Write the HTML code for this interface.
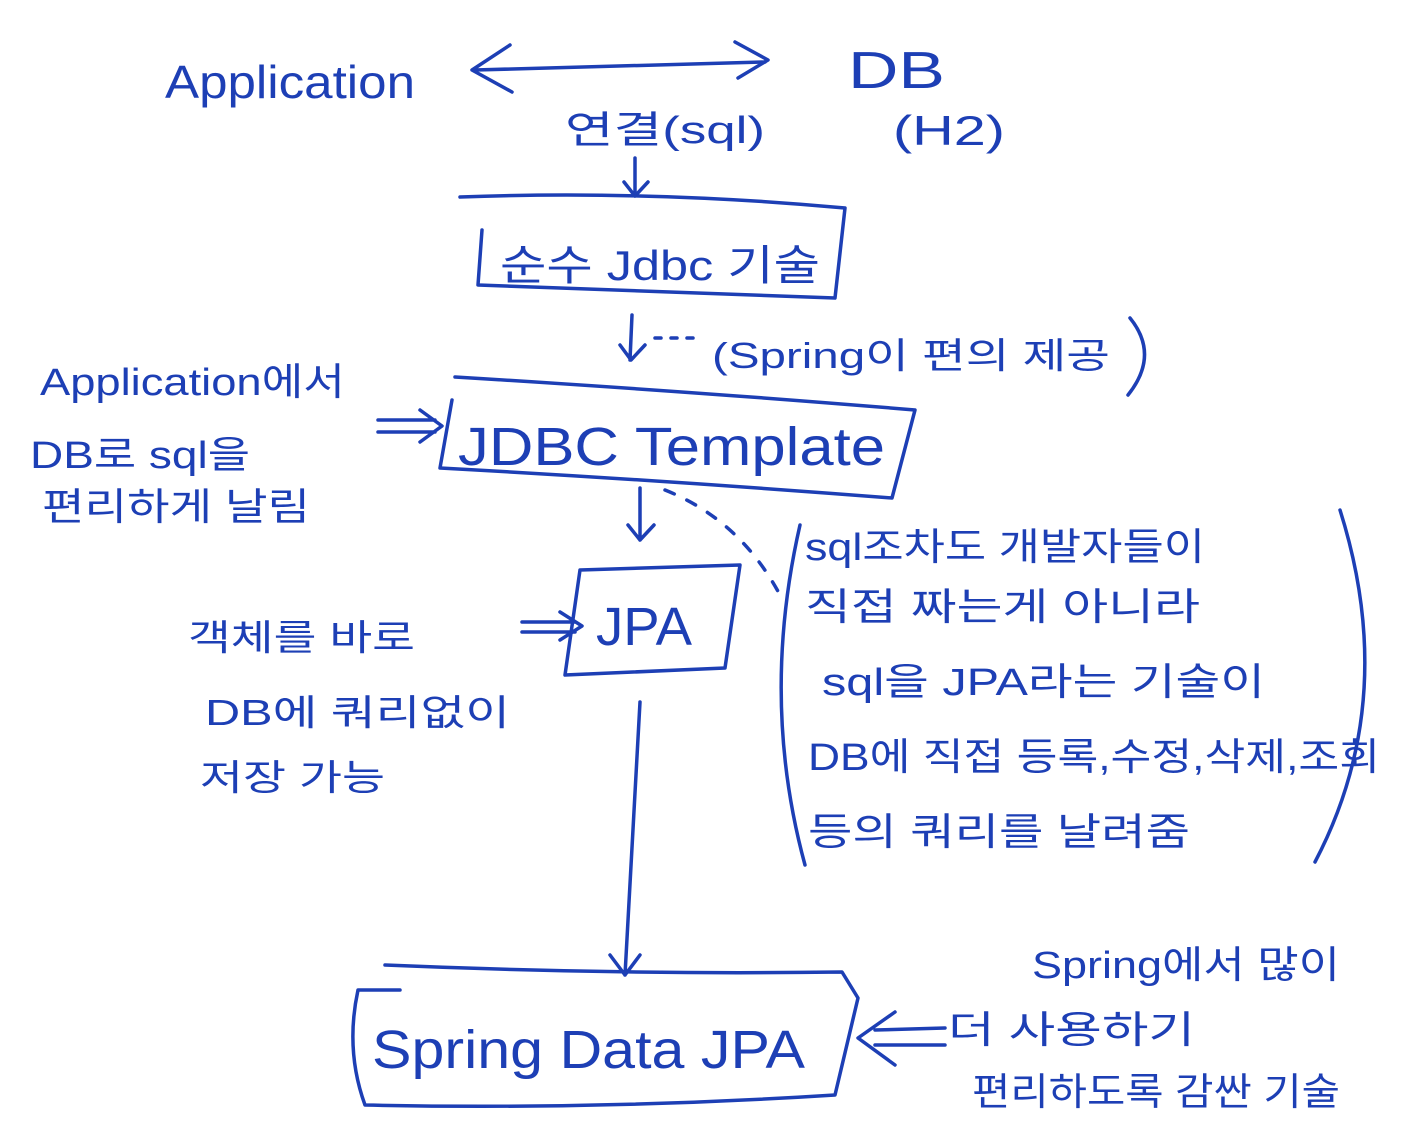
<!DOCTYPE html>
<html><head><meta charset="utf-8"><style>
html,body{margin:0;padding:0;background:#fff;}
svg{display:block;}
text{font-family:"Liberation Sans","Noto Sans CJK KR",sans-serif;fill:#1d3fb5;}
</style></head><body>
<svg width="1419" height="1137" viewBox="0 0 1419 1137" xmlns="http://www.w3.org/2000/svg">
<g fill="none" stroke="#1d3fb5" stroke-width="3.5" stroke-linecap="round" stroke-linejoin="round">
<path d="M475 70 L765 62"/>
<path d="M510 45 L472 70 L512 92"/>
<path d="M735 42 L768 60 L738 78"/>
<path d="M635 158 L635 195 M624 182 L635 196 L648 182"/>
<path d="M460 197 Q650 190 845 208 L835 298 L478 285 L482 230"/>
<path d="M632 315 L630 360 M620 345 L631 360 L645 345"/>
<path d="M655 338 L700 338" stroke-dasharray="6 10"/>
<path d="M1130 318 Q1160 355 1128 395"/>
<path d="M378 420 L435 420 M378 432 L435 432 M420 410 L442 426 L420 442"/>
<path d="M455 377 Q700 392 915 410 L892 498 Q660 480 440 468 L452 400"/>
<path d="M640 488 L640 540 M628 525 L640 540 L654 525"/>
<path d="M665 490 Q740 520 780 595" stroke-dasharray="10 14"/>
<path d="M580 570 L740 565 L725 668 L565 675 L580 570"/>
<path d="M522 622 L575 622 M522 632 L575 632 M560 612 L582 626 L560 640"/>
<path d="M800 525 Q760 700 805 865"/>
<path d="M1340 510 Q1400 700 1315 862"/>
<path d="M640 702 L625 975 M610 955 L625 975 L640 955"/>
<path d="M385 965 Q620 975 842 972 L858 998 L835 1095 Q600 1110 365 1105 Q345 1050 358 990 L400 990"/>
<path d="M875 1030 L945 1028 M875 1045 L945 1045 M895 1012 L858 1038 L895 1065"/>
</g>
<g font-size="46" lengthAdjust="spacingAndGlyphs">
<text x="165" y="98" textLength="250" lengthAdjust="spacingAndGlyphs">Application</text>
<text x="848" y="88" font-size="52" textLength="97" lengthAdjust="spacingAndGlyphs">DB</text>
<text x="893" y="145" font-size="42" textLength="112" lengthAdjust="spacingAndGlyphs">(H2)</text>
<text x="565" y="143" font-size="38" textLength="200" lengthAdjust="spacingAndGlyphs">연결(sql)</text>
<text x="500" y="280" font-size="42" textLength="320" lengthAdjust="spacingAndGlyphs">순수 Jdbc 기술</text>
<text x="712" y="368" font-size="36" textLength="398" lengthAdjust="spacingAndGlyphs">(Spring이 편의 제공</text>
<text x="40" y="395" font-size="38" textLength="305" lengthAdjust="spacingAndGlyphs">Application에서</text>
<text x="30" y="468" font-size="38" textLength="220" lengthAdjust="spacingAndGlyphs">DB로 sql을</text>
<text x="42" y="520" font-size="38" textLength="268" lengthAdjust="spacingAndGlyphs">편리하게 날림</text>
<text x="458" y="465" font-size="54" textLength="427" lengthAdjust="spacingAndGlyphs">JDBC Template</text>
<text x="596" y="645" font-size="54" textLength="96" lengthAdjust="spacingAndGlyphs">JPA</text>
<text x="188" y="650" font-size="36" textLength="227" lengthAdjust="spacingAndGlyphs">객체를 바로</text>
<text x="205" y="725" font-size="36" textLength="305" lengthAdjust="spacingAndGlyphs">DB에 쿼리없이</text>
<text x="200" y="790" font-size="36" textLength="185" lengthAdjust="spacingAndGlyphs">저장 가능</text>
<g font-size="38">
<text x="805" y="560" textLength="400" lengthAdjust="spacingAndGlyphs">sql조차도 개발자들이</text>
<text x="805" y="620" textLength="395" lengthAdjust="spacingAndGlyphs">직접 짜는게 아니라</text>
<text x="822" y="695" textLength="443" lengthAdjust="spacingAndGlyphs">sql을 JPA라는 기술이</text>
<text x="808" y="770" textLength="572" lengthAdjust="spacingAndGlyphs">DB에 직접 등록,수정,삭제,조회</text>
<text x="808" y="845" textLength="382" lengthAdjust="spacingAndGlyphs">등의 쿼리를 날려줌</text>
</g>
<text x="372" y="1068" font-size="54" textLength="433" lengthAdjust="spacingAndGlyphs">Spring Data JPA</text>
<text x="1032" y="978" font-size="38" textLength="308" lengthAdjust="spacingAndGlyphs">Spring에서 많이</text>
<text x="948" y="1043" font-size="38" textLength="247" lengthAdjust="spacingAndGlyphs">더 사용하기</text>
<text x="972" y="1105" font-size="38" textLength="368" lengthAdjust="spacingAndGlyphs">편리하도록 감싼 기술</text>
</g>
</svg>
</body></html>
